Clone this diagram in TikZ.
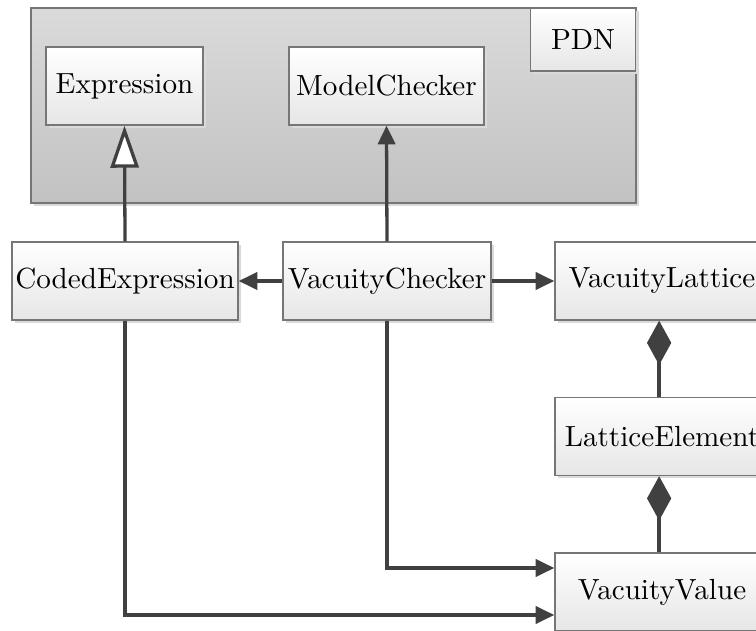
\documentclass[tikz,border=0pt]{standalone}
\usetikzlibrary{arrows.meta,shadows}
\definecolor{linegray}{HTML}{404040}
\definecolor{bordergray}{HTML}{767676}
\definecolor{shadowgray}{HTML}{DADADA}
\definecolor{pkgtop}{HTML}{DADADA}
\definecolor{pkgbottom}{HTML}{C2C2C2}
\definecolor{boxbottom}{HTML}{E6E6E6}
\tikzset{
  x=0.35pt, y=-0.35pt,
  every node/.style={font=\fontsize{10.2}{12}\selectfont},
  shadowed/.style={drop shadow={shadow xshift=1pt, shadow yshift=-1pt, fill=shadowgray, opacity=1}},
  classbox/.style={draw=bordergray, line width=0.5pt, top color=white, bottom color=boxbottom,
    shadowed, minimum width=#1*0.35pt, minimum height=78*0.35pt, inner sep=0pt},
  classbox/.default=208,
  pkg/.style={draw=bordergray, line width=0.5pt, top color=pkgtop, bottom color=pkgbottom, shadowed},
  conn/.style={draw=linegray, line width=1.15pt},
  assoc/.style={conn, -{Triangle[length=6.5pt, width=6pt]}},
  generalize/.style={conn, -{Triangle[open, length=14.7pt, width=9.8pt, fill=white]}},
  composed/.style={conn, {Diamond[length=15.5pt, width=8.5pt]}-},
}
\begin{document}
\begin{tikzpicture}
\useasboundingbox (0,0) rectangle (756,631);
\clip (0,0) rectangle (756,631);

% package PDN
\path[pkg] (31,8) rectangle (636,203);
\node[classbox=105, minimum height=63*0.35pt, drop shadow={opacity=0}] (pdn) at (583,39.5) {PDN};

% classes inside the package
\node[classbox=157] (expr) at (124.5,86) {Expression};
\node[classbox=195] (mc) at (386.5,86) {ModelChecker};

% classes outside
\node[classbox=226] (coded) at (125,281) {CodedExpression};
\node[classbox=208] (vc) at (387,281) {VacuityChecker};
\node[classbox=214] (vl) at (662,281) {VacuityLattice};
\node[classbox=214] (le) at (662,436.5) {LatticeElement};
\node[classbox=214] (vv) at (662,592) {VacuityValue};

% relations
\draw[generalize] (coded.north) -- (expr.south);
\draw[assoc] (vc.north) -- (mc.south);
\draw[assoc] (vc.west) -- (coded.east);
\draw[assoc] (vc.east) -- (vl.west);
\draw[composed] ([xshift=-1pt]vl.south) -- ([xshift=-1pt]le.north);
\draw[composed] ([xshift=-1pt]le.south) -- ([xshift=-1pt]vv.north);
\coordinate (vvin1) at (vv.west |- 0,568);
\coordinate (vvin2) at (vv.west |- 0,615);
\draw[assoc] (vc.south) |- (vvin1);
\draw[assoc] (coded.south) |- (vvin2);
\end{tikzpicture}
\end{document}
